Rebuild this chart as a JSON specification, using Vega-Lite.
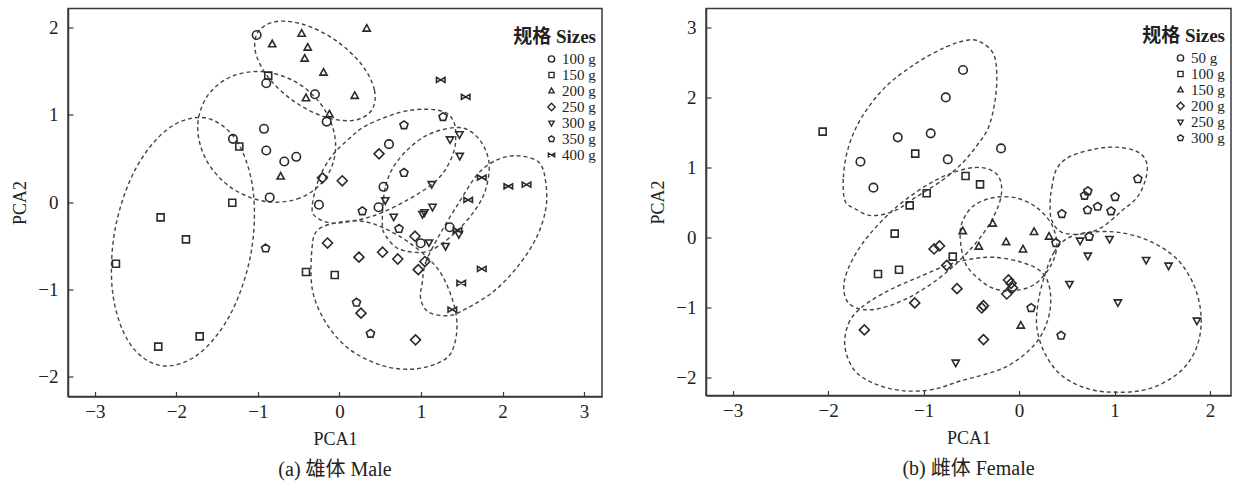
{
  "$schema": "https://vega.github.io/schema/vega-lite/v6.json",
  "background": "white",
  "padding": {"left": 11, "top": 7.5, "right": 2, "bottom": 0},
  "config": {
    "font": "Liberation Serif, Noto Sans CJK SC",
    "view": {"stroke": "#3a3a3a", "strokeWidth": 1.5},
    "axis": {
      "grid": false, "domainColor": "#3a3a3a", "domainWidth": 1.5,
      "tickColor": "#3a3a3a", "tickWidth": 1.2, "tickSize": -5,
      "labelFontSize": 19, "labelColor": "#222", "titleFontSize": 18,
      "titleFontWeight": "normal", "titleColor": "#222", "format": "d"
    },
    "axisX": {"labelPadding": 11, "titlePadding": 9},
    "axisY": {"labelPadding": 15, "titlePadding": 8},
    "title": {"fontSize": 20, "fontWeight": "normal", "color": "#222"},
    "legend": {
      "titleFontSize": 19, "titleFontWeight": "bold", "titleColor": "#222",
      "labelFontSize": 15, "labelColor": "#222", "symbolSize": 55,
      "symbolStrokeWidth": 1.4, "symbolStrokeColor": "#2a2a2a", "symbolFillColor": "transparent",
      "rowPadding": 0, "labelOffset": 3, "padding": 0, "titlePadding": 5
    },
    "concat": {"spacing": 46}
  },
  "datasets": {
    "mp": [
      {"PCA1": -1.016, "PCA2": 1.916, "size": "100 g"},
      {"PCA1": -0.898, "PCA2": 1.363, "size": "100 g"},
      {"PCA1": -0.301, "PCA2": 1.237, "size": "100 g"},
      {"PCA1": -0.157, "PCA2": 0.923, "size": "100 g"},
      {"PCA1": -0.926, "PCA2": 0.840, "size": "100 g"},
      {"PCA1": -1.307, "PCA2": 0.725, "size": "100 g"},
      {"PCA1": -0.898, "PCA2": 0.591, "size": "100 g"},
      {"PCA1": -0.677, "PCA2": 0.465, "size": "100 g"},
      {"PCA1": -0.530, "PCA2": 0.519, "size": "100 g"},
      {"PCA1": -0.856, "PCA2": 0.053, "size": "100 g"},
      {"PCA1": -0.252, "PCA2": -0.031, "size": "100 g"},
      {"PCA1": 0.607, "PCA2": 0.664, "size": "100 g"},
      {"PCA1": 0.540, "PCA2": 0.175, "size": "100 g"},
      {"PCA1": 0.479, "PCA2": -0.060, "size": "100 g"},
      {"PCA1": 0.996, "PCA2": -0.472, "size": "100 g"},
      {"PCA1": 1.352, "PCA2": -0.289, "size": "100 g"},
      {"PCA1": -0.874, "PCA2": 1.450, "size": "150 g"},
      {"PCA1": -1.229, "PCA2": 0.637, "size": "150 g"},
      {"PCA1": -1.315, "PCA2": -0.008, "size": "150 g"},
      {"PCA1": -2.194, "PCA2": -0.176, "size": "150 g"},
      {"PCA1": -1.883, "PCA2": -0.428, "size": "150 g"},
      {"PCA1": -2.742, "PCA2": -0.707, "size": "150 g"},
      {"PCA1": -0.411, "PCA2": -0.802, "size": "150 g"},
      {"PCA1": -0.058, "PCA2": -0.836, "size": "150 g"},
      {"PCA1": -2.223, "PCA2": -1.658, "size": "150 g"},
      {"PCA1": -1.715, "PCA2": -1.540, "size": "150 g"},
      {"PCA1": -0.825, "PCA2": 1.810, "size": "200 g"},
      {"PCA1": -0.464, "PCA2": 1.931, "size": "200 g"},
      {"PCA1": -0.390, "PCA2": 1.771, "size": "200 g"},
      {"PCA1": -0.427, "PCA2": 1.645, "size": "200 g"},
      {"PCA1": -0.196, "PCA2": 1.485, "size": "200 g"},
      {"PCA1": 0.334, "PCA2": 1.989, "size": "200 g"},
      {"PCA1": 0.187, "PCA2": 1.218, "size": "200 g"},
      {"PCA1": -0.411, "PCA2": 1.191, "size": "200 g"},
      {"PCA1": -0.123, "PCA2": 1.006, "size": "200 g"},
      {"PCA1": -0.721, "PCA2": 0.293, "size": "200 g"},
      {"PCA1": 0.485, "PCA2": 0.553, "size": "250 g"},
      {"PCA1": 0.034, "PCA2": 0.244, "size": "250 g"},
      {"PCA1": -0.209, "PCA2": 0.278, "size": "250 g"},
      {"PCA1": -0.147, "PCA2": -0.470, "size": "250 g"},
      {"PCA1": 0.239, "PCA2": -0.632, "size": "250 g"},
      {"PCA1": 0.528, "PCA2": -0.575, "size": "250 g"},
      {"PCA1": 0.715, "PCA2": -0.653, "size": "250 g"},
      {"PCA1": 0.926, "PCA2": -0.392, "size": "250 g"},
      {"PCA1": 1.047, "PCA2": -0.682, "size": "250 g"},
      {"PCA1": 0.966, "PCA2": -0.775, "size": "250 g"},
      {"PCA1": 0.264, "PCA2": -1.274, "size": "250 g"},
      {"PCA1": 0.933, "PCA2": -1.580, "size": "250 g"},
      {"PCA1": 1.356, "PCA2": 0.719, "size": "300 g"},
      {"PCA1": 1.472, "PCA2": 0.777, "size": "300 g"},
      {"PCA1": 1.475, "PCA2": 0.530, "size": "300 g"},
      {"PCA1": 1.131, "PCA2": 0.206, "size": "300 g"},
      {"PCA1": 0.562, "PCA2": 0.021, "size": "300 g"},
      {"PCA1": 0.665, "PCA2": -0.168, "size": "300 g"},
      {"PCA1": 1.141, "PCA2": -0.054, "size": "300 g"},
      {"PCA1": 1.018, "PCA2": -0.137, "size": "300 g"},
      {"PCA1": 1.043, "PCA2": -0.117, "size": "300 g"},
      {"PCA1": 1.098, "PCA2": -0.463, "size": "300 g"},
      {"PCA1": 1.301, "PCA2": -0.504, "size": "300 g"},
      {"PCA1": 1.464, "PCA2": -0.367, "size": "300 g"},
      {"PCA1": 1.270, "PCA2": 0.977, "size": "350 g"},
      {"PCA1": 0.791, "PCA2": 0.882, "size": "350 g"},
      {"PCA1": 0.791, "PCA2": 0.336, "size": "350 g"},
      {"PCA1": 0.280, "PCA2": -0.105, "size": "350 g"},
      {"PCA1": 0.730, "PCA2": -0.306, "size": "350 g"},
      {"PCA1": 0.209, "PCA2": -1.153, "size": "350 g"},
      {"PCA1": 0.380, "PCA2": -1.509, "size": "350 g"},
      {"PCA1": -0.906, "PCA2": -0.531, "size": "350 g"},
      {"PCA1": 1.242, "PCA2": 1.401, "size": "400 g"},
      {"PCA1": 1.548, "PCA2": 1.206, "size": "400 g"},
      {"PCA1": 1.745, "PCA2": 0.281, "size": "400 g"},
      {"PCA1": 1.579, "PCA2": 0.024, "size": "400 g"},
      {"PCA1": 2.071, "PCA2": 0.181, "size": "400 g"},
      {"PCA1": 2.294, "PCA2": 0.200, "size": "400 g"},
      {"PCA1": 1.448, "PCA2": -0.323, "size": "400 g"},
      {"PCA1": 1.745, "PCA2": -0.766, "size": "400 g"},
      {"PCA1": 1.493, "PCA2": -0.928, "size": "400 g"},
      {"PCA1": 1.384, "PCA2": -1.234, "size": "400 g"}
    ],
    "me": [
      {"g": "m1", "i": 0, "PCA1": -1.639, "PCA2": 0.964},
      {"g": "m1", "i": 1, "PCA1": -1.261, "PCA2": 0.702},
      {"g": "m1", "i": 2, "PCA1": -1.059, "PCA2": 0.129},
      {"g": "m1", "i": 3, "PCA1": -1.088, "PCA2": -0.599},
      {"g": "m1", "i": 4, "PCA1": -1.340, "PCA2": -1.290},
      {"g": "m1", "i": 5, "PCA1": -1.747, "PCA2": -1.756},
      {"g": "m1", "i": 6, "PCA1": -2.201, "PCA2": -1.874},
      {"g": "m1", "i": 7, "PCA1": -2.579, "PCA2": -1.612},
      {"g": "m1", "i": 8, "PCA1": -2.782, "PCA2": -1.040},
      {"g": "m1", "i": 9, "PCA1": -2.752, "PCA2": -0.310},
      {"g": "m1", "i": 10, "PCA1": -2.501, "PCA2": 0.380},
      {"g": "m1", "i": 11, "PCA1": -2.093, "PCA2": 0.847},
      {"g": "m2", "i": 0, "PCA1": -0.169, "PCA2": 0.275},
      {"g": "m2", "i": 1, "PCA1": -0.485, "PCA2": 0.047},
      {"g": "m2", "i": 2, "PCA1": -0.909, "PCA2": 0.007},
      {"g": "m2", "i": 3, "PCA1": -1.330, "PCA2": 0.166},
      {"g": "m2", "i": 4, "PCA1": -1.633, "PCA2": 0.481},
      {"g": "m2", "i": 5, "PCA1": -1.739, "PCA2": 0.867},
      {"g": "m2", "i": 6, "PCA1": -1.617, "PCA2": 1.221},
      {"g": "m2", "i": 7, "PCA1": -1.301, "PCA2": 1.449},
      {"g": "m2", "i": 8, "PCA1": -0.877, "PCA2": 1.489},
      {"g": "m2", "i": 9, "PCA1": -0.456, "PCA2": 1.330},
      {"g": "m2", "i": 10, "PCA1": -0.153, "PCA2": 1.015},
      {"g": "m2", "i": 11, "PCA1": -0.047, "PCA2": 0.629},
      {"g": "m3", "i": 0, "PCA1": 0.392, "PCA2": 1.050},
      {"g": "m3", "i": 1, "PCA1": 0.429, "PCA2": 1.285},
      {"g": "m3", "i": 2, "PCA1": 0.271, "PCA2": 1.578},
      {"g": "m3", "i": 3, "PCA1": -0.041, "PCA2": 1.851},
      {"g": "m3", "i": 4, "PCA1": -0.423, "PCA2": 2.032},
      {"g": "m3", "i": 5, "PCA1": -0.771, "PCA2": 2.071},
      {"g": "m3", "i": 6, "PCA1": -0.994, "PCA2": 1.958},
      {"g": "m3", "i": 7, "PCA1": -1.031, "PCA2": 1.723},
      {"g": "m3", "i": 8, "PCA1": -0.873, "PCA2": 1.430},
      {"g": "m3", "i": 9, "PCA1": -0.561, "PCA2": 1.157},
      {"g": "m3", "i": 10, "PCA1": -0.179, "PCA2": 0.976},
      {"g": "m3", "i": 11, "PCA1": 0.169, "PCA2": 0.937},
      {"g": "m4", "i": 0, "PCA1": -0.334, "PCA2": -0.042},
      {"g": "m4", "i": 1, "PCA1": -0.252, "PCA2": 0.267},
      {"g": "m4", "i": 2, "PCA1": -0.092, "PCA2": 0.530},
      {"g": "m4", "i": 3, "PCA1": 0.117, "PCA2": 0.725},
      {"g": "m4", "i": 4, "PCA1": 0.321, "PCA2": 0.874},
      {"g": "m4", "i": 5, "PCA1": 0.730, "PCA2": 1.026},
      {"g": "m4", "i": 6, "PCA1": 1.058, "PCA2": 1.065},
      {"g": "m4", "i": 7, "PCA1": 1.303, "PCA2": 1.026},
      {"g": "m4", "i": 8, "PCA1": 1.405, "PCA2": 0.912},
      {"g": "m4", "i": 9, "PCA1": 1.426, "PCA2": 0.759},
      {"g": "m4", "i": 10, "PCA1": 1.405, "PCA2": 0.588},
      {"g": "m4", "i": 11, "PCA1": 1.303, "PCA2": 0.378},
      {"g": "m4", "i": 12, "PCA1": 1.139, "PCA2": 0.206},
      {"g": "m4", "i": 13, "PCA1": 0.853, "PCA2": 0.034},
      {"g": "m4", "i": 14, "PCA1": 0.525, "PCA2": -0.119},
      {"g": "m4", "i": 15, "PCA1": 0.239, "PCA2": -0.203},
      {"g": "m4", "i": 16, "PCA1": -0.088, "PCA2": -0.241},
      {"g": "m4", "i": 17, "PCA1": -0.292, "PCA2": -0.168},
      {"g": "m5", "i": 0, "PCA1": 0.525, "PCA2": -0.234},
      {"g": "m5", "i": 1, "PCA1": 0.567, "PCA2": 0.187},
      {"g": "m5", "i": 2, "PCA1": 0.730, "PCA2": 0.493},
      {"g": "m5", "i": 3, "PCA1": 1.058, "PCA2": 0.759},
      {"g": "m5", "i": 4, "PCA1": 1.466, "PCA2": 0.855},
      {"g": "m5", "i": 5, "PCA1": 1.712, "PCA2": 0.722},
      {"g": "m5", "i": 6, "PCA1": 1.834, "PCA2": 0.454},
      {"g": "m5", "i": 7, "PCA1": 1.794, "PCA2": 0.149},
      {"g": "m5", "i": 8, "PCA1": 1.671, "PCA2": -0.080},
      {"g": "m5", "i": 9, "PCA1": 1.466, "PCA2": -0.309},
      {"g": "m5", "i": 10, "PCA1": 1.221, "PCA2": -0.501},
      {"g": "m5", "i": 11, "PCA1": 1.016, "PCA2": -0.577},
      {"g": "m5", "i": 12, "PCA1": 0.730, "PCA2": -0.538},
      {"g": "m5", "i": 13, "PCA1": 0.567, "PCA2": -0.386},
      {"g": "m6", "i": 0, "PCA1": -0.334, "PCA2": -0.501},
      {"g": "m6", "i": 1, "PCA1": -0.252, "PCA2": -0.309},
      {"g": "m6", "i": 2, "PCA1": 0.034, "PCA2": -0.226},
      {"g": "m6", "i": 3, "PCA1": 0.321, "PCA2": -0.226},
      {"g": "m6", "i": 4, "PCA1": 0.567, "PCA2": -0.309},
      {"g": "m6", "i": 5, "PCA1": 0.853, "PCA2": -0.463},
      {"g": "m6", "i": 6, "PCA1": 1.139, "PCA2": -0.692},
      {"g": "m6", "i": 7, "PCA1": 1.303, "PCA2": -0.921},
      {"g": "m6", "i": 8, "PCA1": 1.426, "PCA2": -1.265},
      {"g": "m6", "i": 9, "PCA1": 1.426, "PCA2": -1.569},
      {"g": "m6", "i": 10, "PCA1": 1.303, "PCA2": -1.798},
      {"g": "m6", "i": 11, "PCA1": 0.935, "PCA2": -1.913},
      {"g": "m6", "i": 12, "PCA1": 0.525, "PCA2": -1.875},
      {"g": "m6", "i": 13, "PCA1": 0.117, "PCA2": -1.684},
      {"g": "m6", "i": 14, "PCA1": -0.169, "PCA2": -1.379},
      {"g": "m6", "i": 15, "PCA1": -0.334, "PCA2": -0.997},
      {"g": "m7", "i": 0, "PCA1": 1.016, "PCA2": -0.921},
      {"g": "m7", "i": 1, "PCA1": 1.058, "PCA2": -0.692},
      {"g": "m7", "i": 2, "PCA1": 1.221, "PCA2": -0.386},
      {"g": "m7", "i": 3, "PCA1": 1.466, "PCA2": -0.005},
      {"g": "m7", "i": 4, "PCA1": 1.712, "PCA2": 0.339},
      {"g": "m7", "i": 5, "PCA1": 1.957, "PCA2": 0.493},
      {"g": "m7", "i": 6, "PCA1": 2.202, "PCA2": 0.530},
      {"g": "m7", "i": 7, "PCA1": 2.448, "PCA2": 0.454},
      {"g": "m7", "i": 8, "PCA1": 2.530, "PCA2": 0.225},
      {"g": "m7", "i": 9, "PCA1": 2.530, "PCA2": -0.080},
      {"g": "m7", "i": 10, "PCA1": 2.407, "PCA2": -0.424},
      {"g": "m7", "i": 11, "PCA1": 2.162, "PCA2": -0.767},
      {"g": "m7", "i": 12, "PCA1": 1.875, "PCA2": -1.036},
      {"g": "m7", "i": 13, "PCA1": 1.548, "PCA2": -1.226},
      {"g": "m7", "i": 14, "PCA1": 1.344, "PCA2": -1.302},
      {"g": "m7", "i": 15, "PCA1": 1.098, "PCA2": -1.265},
      {"g": "m7", "i": 16, "PCA1": 0.996, "PCA2": -1.111}
    ],
    "fp": [
      {"PCA1": -0.587, "PCA2": 2.391, "size": "50 g"},
      {"PCA1": -0.768, "PCA2": 2.000, "size": "50 g"},
      {"PCA1": -1.271, "PCA2": 1.429, "size": "50 g"},
      {"PCA1": -0.926, "PCA2": 1.486, "size": "50 g"},
      {"PCA1": -1.662, "PCA2": 1.081, "size": "50 g"},
      {"PCA1": -0.747, "PCA2": 1.114, "size": "50 g"},
      {"PCA1": -1.526, "PCA2": 0.710, "size": "50 g"},
      {"PCA1": -0.189, "PCA2": 1.271, "size": "50 g"},
      {"PCA1": -2.058, "PCA2": 1.510, "size": "100 g"},
      {"PCA1": -1.088, "PCA2": 1.196, "size": "100 g"},
      {"PCA1": -0.561, "PCA2": 0.877, "size": "100 g"},
      {"PCA1": -0.409, "PCA2": 0.757, "size": "100 g"},
      {"PCA1": -0.968, "PCA2": 0.631, "size": "100 g"},
      {"PCA1": -1.146, "PCA2": 0.457, "size": "100 g"},
      {"PCA1": -1.303, "PCA2": 0.053, "size": "100 g"},
      {"PCA1": -0.695, "PCA2": -0.276, "size": "100 g"},
      {"PCA1": -1.478, "PCA2": -0.523, "size": "100 g"},
      {"PCA1": -1.258, "PCA2": -0.464, "size": "100 g"},
      {"PCA1": -0.590, "PCA2": 0.089, "size": "150 g"},
      {"PCA1": -0.276, "PCA2": 0.196, "size": "150 g"},
      {"PCA1": -0.422, "PCA2": -0.133, "size": "150 g"},
      {"PCA1": -0.136, "PCA2": -0.069, "size": "150 g"},
      {"PCA1": 0.157, "PCA2": 0.077, "size": "150 g"},
      {"PCA1": 0.041, "PCA2": -0.173, "size": "150 g"},
      {"PCA1": 0.314, "PCA2": 0.010, "size": "150 g"},
      {"PCA1": 0.018, "PCA2": -1.261, "size": "150 g"},
      {"PCA1": -0.891, "PCA2": -0.166, "size": "200 g"},
      {"PCA1": -0.834, "PCA2": -0.123, "size": "200 g"},
      {"PCA1": -0.758, "PCA2": -0.400, "size": "200 g"},
      {"PCA1": -0.650, "PCA2": -0.733, "size": "200 g"},
      {"PCA1": -1.093, "PCA2": -0.937, "size": "200 g"},
      {"PCA1": -1.621, "PCA2": -1.323, "size": "200 g"},
      {"PCA1": -0.111, "PCA2": -0.609, "size": "200 g"},
      {"PCA1": -0.084, "PCA2": -0.657, "size": "200 g"},
      {"PCA1": -0.069, "PCA2": -0.723, "size": "200 g"},
      {"PCA1": -0.129, "PCA2": -0.809, "size": "200 g"},
      {"PCA1": -0.373, "PCA2": -0.976, "size": "200 g"},
      {"PCA1": -0.391, "PCA2": -1.009, "size": "200 g"},
      {"PCA1": -0.373, "PCA2": -1.461, "size": "200 g"},
      {"PCA1": 0.639, "PCA2": -0.047, "size": "250 g"},
      {"PCA1": 0.948, "PCA2": -0.023, "size": "250 g"},
      {"PCA1": 0.720, "PCA2": -0.261, "size": "250 g"},
      {"PCA1": 1.331, "PCA2": -0.323, "size": "250 g"},
      {"PCA1": 1.566, "PCA2": -0.404, "size": "250 g"},
      {"PCA1": 0.528, "PCA2": -0.666, "size": "250 g"},
      {"PCA1": 1.035, "PCA2": -0.929, "size": "250 g"},
      {"PCA1": 1.863, "PCA2": -1.190, "size": "250 g"},
      {"PCA1": -0.664, "PCA2": -1.790, "size": "250 g"},
      {"PCA1": 1.244, "PCA2": 0.834, "size": "300 g"},
      {"PCA1": 0.720, "PCA2": 0.660, "size": "300 g"},
      {"PCA1": 0.686, "PCA2": 0.596, "size": "300 g"},
      {"PCA1": 1.006, "PCA2": 0.577, "size": "300 g"},
      {"PCA1": 0.448, "PCA2": 0.334, "size": "300 g"},
      {"PCA1": 0.717, "PCA2": 0.389, "size": "300 g"},
      {"PCA1": 0.823, "PCA2": 0.439, "size": "300 g"},
      {"PCA1": 0.963, "PCA2": 0.374, "size": "300 g"},
      {"PCA1": 0.734, "PCA2": 0.010, "size": "300 g"},
      {"PCA1": 0.385, "PCA2": -0.080, "size": "300 g"},
      {"PCA1": 0.126, "PCA2": -1.009, "size": "300 g"},
      {"PCA1": 0.440, "PCA2": -1.404, "size": "300 g"}
    ],
    "fe": [
      {"g": "f1", "i": 0, "PCA1": -1.824, "PCA2": 0.524},
      {"g": "f1", "i": 1, "PCA1": -1.841, "PCA2": 0.857},
      {"g": "f1", "i": 2, "PCA1": -1.788, "PCA2": 1.286},
      {"g": "f1", "i": 3, "PCA1": -1.649, "PCA2": 1.714},
      {"g": "f1", "i": 4, "PCA1": -1.405, "PCA2": 2.143},
      {"g": "f1", "i": 5, "PCA1": -1.090, "PCA2": 2.477},
      {"g": "f1", "i": 6, "PCA1": -0.776, "PCA2": 2.714},
      {"g": "f1", "i": 7, "PCA1": -0.530, "PCA2": 2.820},
      {"g": "f1", "i": 8, "PCA1": -0.391, "PCA2": 2.781},
      {"g": "f1", "i": 9, "PCA1": -0.268, "PCA2": 2.620},
      {"g": "f1", "i": 10, "PCA1": -0.234, "PCA2": 2.334},
      {"g": "f1", "i": 11, "PCA1": -0.252, "PCA2": 1.953},
      {"g": "f1", "i": 12, "PCA1": -0.321, "PCA2": 1.571},
      {"g": "f1", "i": 13, "PCA1": -0.443, "PCA2": 1.310},
      {"g": "f1", "i": 14, "PCA1": -0.601, "PCA2": 1.053},
      {"g": "f1", "i": 15, "PCA1": -0.810, "PCA2": 0.810},
      {"g": "f1", "i": 16, "PCA1": -1.090, "PCA2": 0.567},
      {"g": "f1", "i": 17, "PCA1": -1.300, "PCA2": 0.381},
      {"g": "f1", "i": 18, "PCA1": -1.544, "PCA2": 0.310},
      {"g": "f1", "i": 19, "PCA1": -1.722, "PCA2": 0.410},
      {"g": "f2", "i": 0, "PCA1": -0.230, "PCA2": 0.897},
      {"g": "f2", "i": 1, "PCA1": -0.194, "PCA2": 0.551},
      {"g": "f2", "i": 2, "PCA1": -0.376, "PCA2": 0.054},
      {"g": "f2", "i": 3, "PCA1": -0.729, "PCA2": -0.463},
      {"g": "f2", "i": 4, "PCA1": -1.156, "PCA2": -0.861},
      {"g": "f2", "i": 5, "PCA1": -1.544, "PCA2": -1.034},
      {"g": "f2", "i": 6, "PCA1": -1.789, "PCA2": -0.934},
      {"g": "f2", "i": 7, "PCA1": -1.825, "PCA2": -0.589},
      {"g": "f2", "i": 8, "PCA1": -1.643, "PCA2": -0.093},
      {"g": "f2", "i": 9, "PCA1": -1.290, "PCA2": 0.426},
      {"g": "f2", "i": 10, "PCA1": -0.863, "PCA2": 0.824},
      {"g": "f2", "i": 11, "PCA1": -0.475, "PCA2": 0.997},
      {"g": "f3", "i": 0, "PCA1": -0.618, "PCA2": 0.024},
      {"g": "f3", "i": 1, "PCA1": -0.580, "PCA2": 0.267},
      {"g": "f3", "i": 2, "PCA1": -0.461, "PCA2": 0.467},
      {"g": "f3", "i": 3, "PCA1": -0.252, "PCA2": 0.571},
      {"g": "f3", "i": 4, "PCA1": -0.024, "PCA2": 0.560},
      {"g": "f3", "i": 5, "PCA1": 0.186, "PCA2": 0.424},
      {"g": "f3", "i": 6, "PCA1": 0.343, "PCA2": 0.181},
      {"g": "f3", "i": 7, "PCA1": 0.395, "PCA2": -0.119},
      {"g": "f3", "i": 8, "PCA1": 0.332, "PCA2": -0.404},
      {"g": "f3", "i": 9, "PCA1": 0.168, "PCA2": -0.666},
      {"g": "f3", "i": 10, "PCA1": -0.042, "PCA2": -0.761},
      {"g": "f3", "i": 11, "PCA1": -0.252, "PCA2": -0.737},
      {"g": "f3", "i": 12, "PCA1": -0.426, "PCA2": -0.590},
      {"g": "f3", "i": 13, "PCA1": -0.566, "PCA2": -0.361},
      {"g": "f4", "i": 0, "PCA1": -1.824, "PCA2": -1.571},
      {"g": "f4", "i": 1, "PCA1": -1.788, "PCA2": -1.237},
      {"g": "f4", "i": 2, "PCA1": -1.649, "PCA2": -1.000},
      {"g": "f4", "i": 3, "PCA1": -1.369, "PCA2": -0.761},
      {"g": "f4", "i": 4, "PCA1": -1.055, "PCA2": -0.571},
      {"g": "f4", "i": 5, "PCA1": -0.740, "PCA2": -0.390},
      {"g": "f4", "i": 6, "PCA1": -0.496, "PCA2": -0.309},
      {"g": "f4", "i": 7, "PCA1": -0.252, "PCA2": -0.286},
      {"g": "f4", "i": 8, "PCA1": 0.028, "PCA2": -0.357},
      {"g": "f4", "i": 9, "PCA1": 0.238, "PCA2": -0.500},
      {"g": "f4", "i": 10, "PCA1": 0.325, "PCA2": -0.761},
      {"g": "f4", "i": 11, "PCA1": 0.308, "PCA2": -1.143},
      {"g": "f4", "i": 12, "PCA1": 0.168, "PCA2": -1.523},
      {"g": "f4", "i": 13, "PCA1": -0.147, "PCA2": -1.857},
      {"g": "f4", "i": 14, "PCA1": -0.601, "PCA2": -2.047},
      {"g": "f4", "i": 15, "PCA1": -0.915, "PCA2": -2.176},
      {"g": "f4", "i": 16, "PCA1": -1.230, "PCA2": -2.190},
      {"g": "f4", "i": 17, "PCA1": -1.509, "PCA2": -2.094},
      {"g": "f4", "i": 18, "PCA1": -1.722, "PCA2": -1.904},
      {"g": "f5", "i": 0, "PCA1": 0.273, "PCA2": -0.523},
      {"g": "f5", "i": 1, "PCA1": 0.364, "PCA2": -0.219},
      {"g": "f5", "i": 2, "PCA1": 0.500, "PCA2": -0.019},
      {"g": "f5", "i": 3, "PCA1": 0.727, "PCA2": 0.071},
      {"g": "f5", "i": 4, "PCA1": 1.042, "PCA2": 0.071},
      {"g": "f5", "i": 5, "PCA1": 1.356, "PCA2": -0.047},
      {"g": "f5", "i": 6, "PCA1": 1.635, "PCA2": -0.286},
      {"g": "f5", "i": 7, "PCA1": 1.810, "PCA2": -0.619},
      {"g": "f5", "i": 8, "PCA1": 1.897, "PCA2": -1.000},
      {"g": "f5", "i": 9, "PCA1": 1.897, "PCA2": -1.380},
      {"g": "f5", "i": 10, "PCA1": 1.810, "PCA2": -1.714},
      {"g": "f5", "i": 11, "PCA1": 1.635, "PCA2": -1.976},
      {"g": "f5", "i": 12, "PCA1": 1.356, "PCA2": -2.166},
      {"g": "f5", "i": 13, "PCA1": 1.042, "PCA2": -2.214},
      {"g": "f5", "i": 14, "PCA1": 0.727, "PCA2": -2.166},
      {"g": "f5", "i": 15, "PCA1": 0.448, "PCA2": -1.976},
      {"g": "f5", "i": 16, "PCA1": 0.273, "PCA2": -1.666},
      {"g": "f5", "i": 17, "PCA1": 0.186, "PCA2": -1.286},
      {"g": "f5", "i": 18, "PCA1": 0.203, "PCA2": -0.904},
      {"g": "f6", "i": 0, "PCA1": 0.325, "PCA2": 0.477},
      {"g": "f6", "i": 1, "PCA1": 0.343, "PCA2": 0.714},
      {"g": "f6", "i": 2, "PCA1": 0.395, "PCA2": 0.981},
      {"g": "f6", "i": 3, "PCA1": 0.531, "PCA2": 1.153},
      {"g": "f6", "i": 4, "PCA1": 0.797, "PCA2": 1.263},
      {"g": "f6", "i": 5, "PCA1": 1.042, "PCA2": 1.286},
      {"g": "f6", "i": 6, "PCA1": 1.252, "PCA2": 1.214},
      {"g": "f6", "i": 7, "PCA1": 1.339, "PCA2": 1.049},
      {"g": "f6", "i": 8, "PCA1": 1.321, "PCA2": 0.810},
      {"g": "f6", "i": 9, "PCA1": 1.234, "PCA2": 0.567},
      {"g": "f6", "i": 10, "PCA1": 1.077, "PCA2": 0.381},
      {"g": "f6", "i": 11, "PCA1": 0.867, "PCA2": 0.143},
      {"g": "f6", "i": 12, "PCA1": 0.657, "PCA2": 0.049},
      {"g": "f6", "i": 13, "PCA1": 0.448, "PCA2": 0.071},
      {"g": "f6", "i": 14, "PCA1": 0.343, "PCA2": 0.239}
    ]
  },
  "hconcat": [
    {
      "width": 534,
      "height": 388,
      "title": {"text": "(a) 雄体 Male", "orient": "bottom", "anchor": "middle", "offset": 11},
      "layer": [
        {
          "data": {"name": "me"},
          "mark": {"type": "line", "interpolate": "cardinal-closed", "strokeDash": [4, 3], "strokeWidth": 1.4, "color": "#444"},
          "encoding": {
            "x": {"field": "PCA1", "type": "quantitative", "scale": {"domain": [-3.33, 3.22], "nice": false, "zero": false}, "axis": {"values": [-3, -2, -1, 0, 1, 2, 3], "title": "PCA1"}},
            "y": {"field": "PCA2", "type": "quantitative", "scale": {"domain": [-2.23, 2.22], "nice": false, "zero": false}, "axis": {"values": [-2, -1, 0, 1, 2], "title": "PCA2"}},
            "detail": {"field": "g", "type": "nominal"},
            "order": {"field": "i", "type": "quantitative"}
          }
        },
        {
          "data": {"name": "mp"},
          "mark": {"type": "point", "filled": false, "strokeWidth": 1.6, "color": "#2a2a2a", "size": 100, "opacity": 1},
          "encoding": {
            "x": {"field": "PCA1", "type": "quantitative"},
            "y": {"field": "PCA2", "type": "quantitative"},
            "shape": {
              "field": "size", "type": "nominal",
              "scale": {
                "domain": ["100 g", "150 g", "200 g", "250 g", "300 g", "350 g", "400 g"],
                "range": [
                  "M-0.85,0A0.85,0.85,0,1,1,0.85,0A0.85,0.85,0,1,1,-0.85,0Z",
                  "M-0.7,-0.7L0.7,-0.7L0.7,0.7L-0.7,0.7Z",
                  "M0,-0.8L0.72,0.5L-0.72,0.5Z",
                  "M-1,0L0,-1L1,0L0,1Z",
                  "M0,0.8L0.72,-0.5L-0.72,-0.5Z",
                  "M0,-0.85L0.81,-0.26L0.5,0.69L-0.5,0.69L-0.81,-0.26Z",
                  "M-0.85,-0.5L0.85,0.5L0.85,-0.5L-0.85,0.5Z"
                ]
              },
              "legend": {"title": "规格 Sizes", "orient": "none", "legendX": 445, "legendY": 19, "symbolOffset": 18, "titleAnchor": "end"}
            }
          }
        }
      ]
    },
    {
      "width": 525,
      "height": 387,
      "title": {"text": "(b) 雌体 Female", "orient": "bottom", "anchor": "middle", "offset": 11},
      "layer": [
        {
          "data": {"name": "fe"},
          "mark": {"type": "line", "interpolate": "cardinal-closed", "strokeDash": [4, 3], "strokeWidth": 1.4, "color": "#444"},
          "encoding": {
            "x": {"field": "PCA1", "type": "quantitative", "scale": {"domain": [-3.28, 2.22], "nice": false, "zero": false}, "axis": {"values": [-3, -2, -1, 0, 1, 2], "title": "PCA1"}},
            "y": {"field": "PCA2", "type": "quantitative", "scale": {"domain": [-2.26, 3.27], "nice": false, "zero": false}, "axis": {"values": [-2, -1, 0, 1, 2, 3], "title": "PCA2"}},
            "detail": {"field": "g", "type": "nominal"},
            "order": {"field": "i", "type": "quantitative"}
          }
        },
        {
          "data": {"name": "fp"},
          "mark": {"type": "point", "filled": false, "strokeWidth": 1.6, "color": "#2a2a2a", "size": 100, "opacity": 1},
          "encoding": {
            "x": {"field": "PCA1", "type": "quantitative"},
            "y": {"field": "PCA2", "type": "quantitative"},
            "shape": {
              "field": "size", "type": "nominal",
              "scale": {
                "domain": ["50 g", "100 g", "150 g", "200 g", "250 g", "300 g"],
                "range": [
                  "M-0.85,0A0.85,0.85,0,1,1,0.85,0A0.85,0.85,0,1,1,-0.85,0Z",
                  "M-0.7,-0.7L0.7,-0.7L0.7,0.7L-0.7,0.7Z",
                  "M0,-0.8L0.72,0.5L-0.72,0.5Z",
                  "M-1,0L0,-1L1,0L0,1Z",
                  "M0,0.8L0.72,-0.5L-0.72,-0.5Z",
                  "M0,-0.85L0.81,-0.26L0.5,0.69L-0.5,0.69L-0.81,-0.26Z"
                ]
              },
              "legend": {"title": "规格 Sizes", "orient": "none", "legendX": 436, "legendY": 18, "symbolOffset": 8, "titleAnchor": "end"}
            }
          }
        }
      ]
    }
  ],
  "resolve": {"scale": {"x": "independent", "y": "independent", "shape": "independent"}, "legend": {"shape": "independent"}}
}
